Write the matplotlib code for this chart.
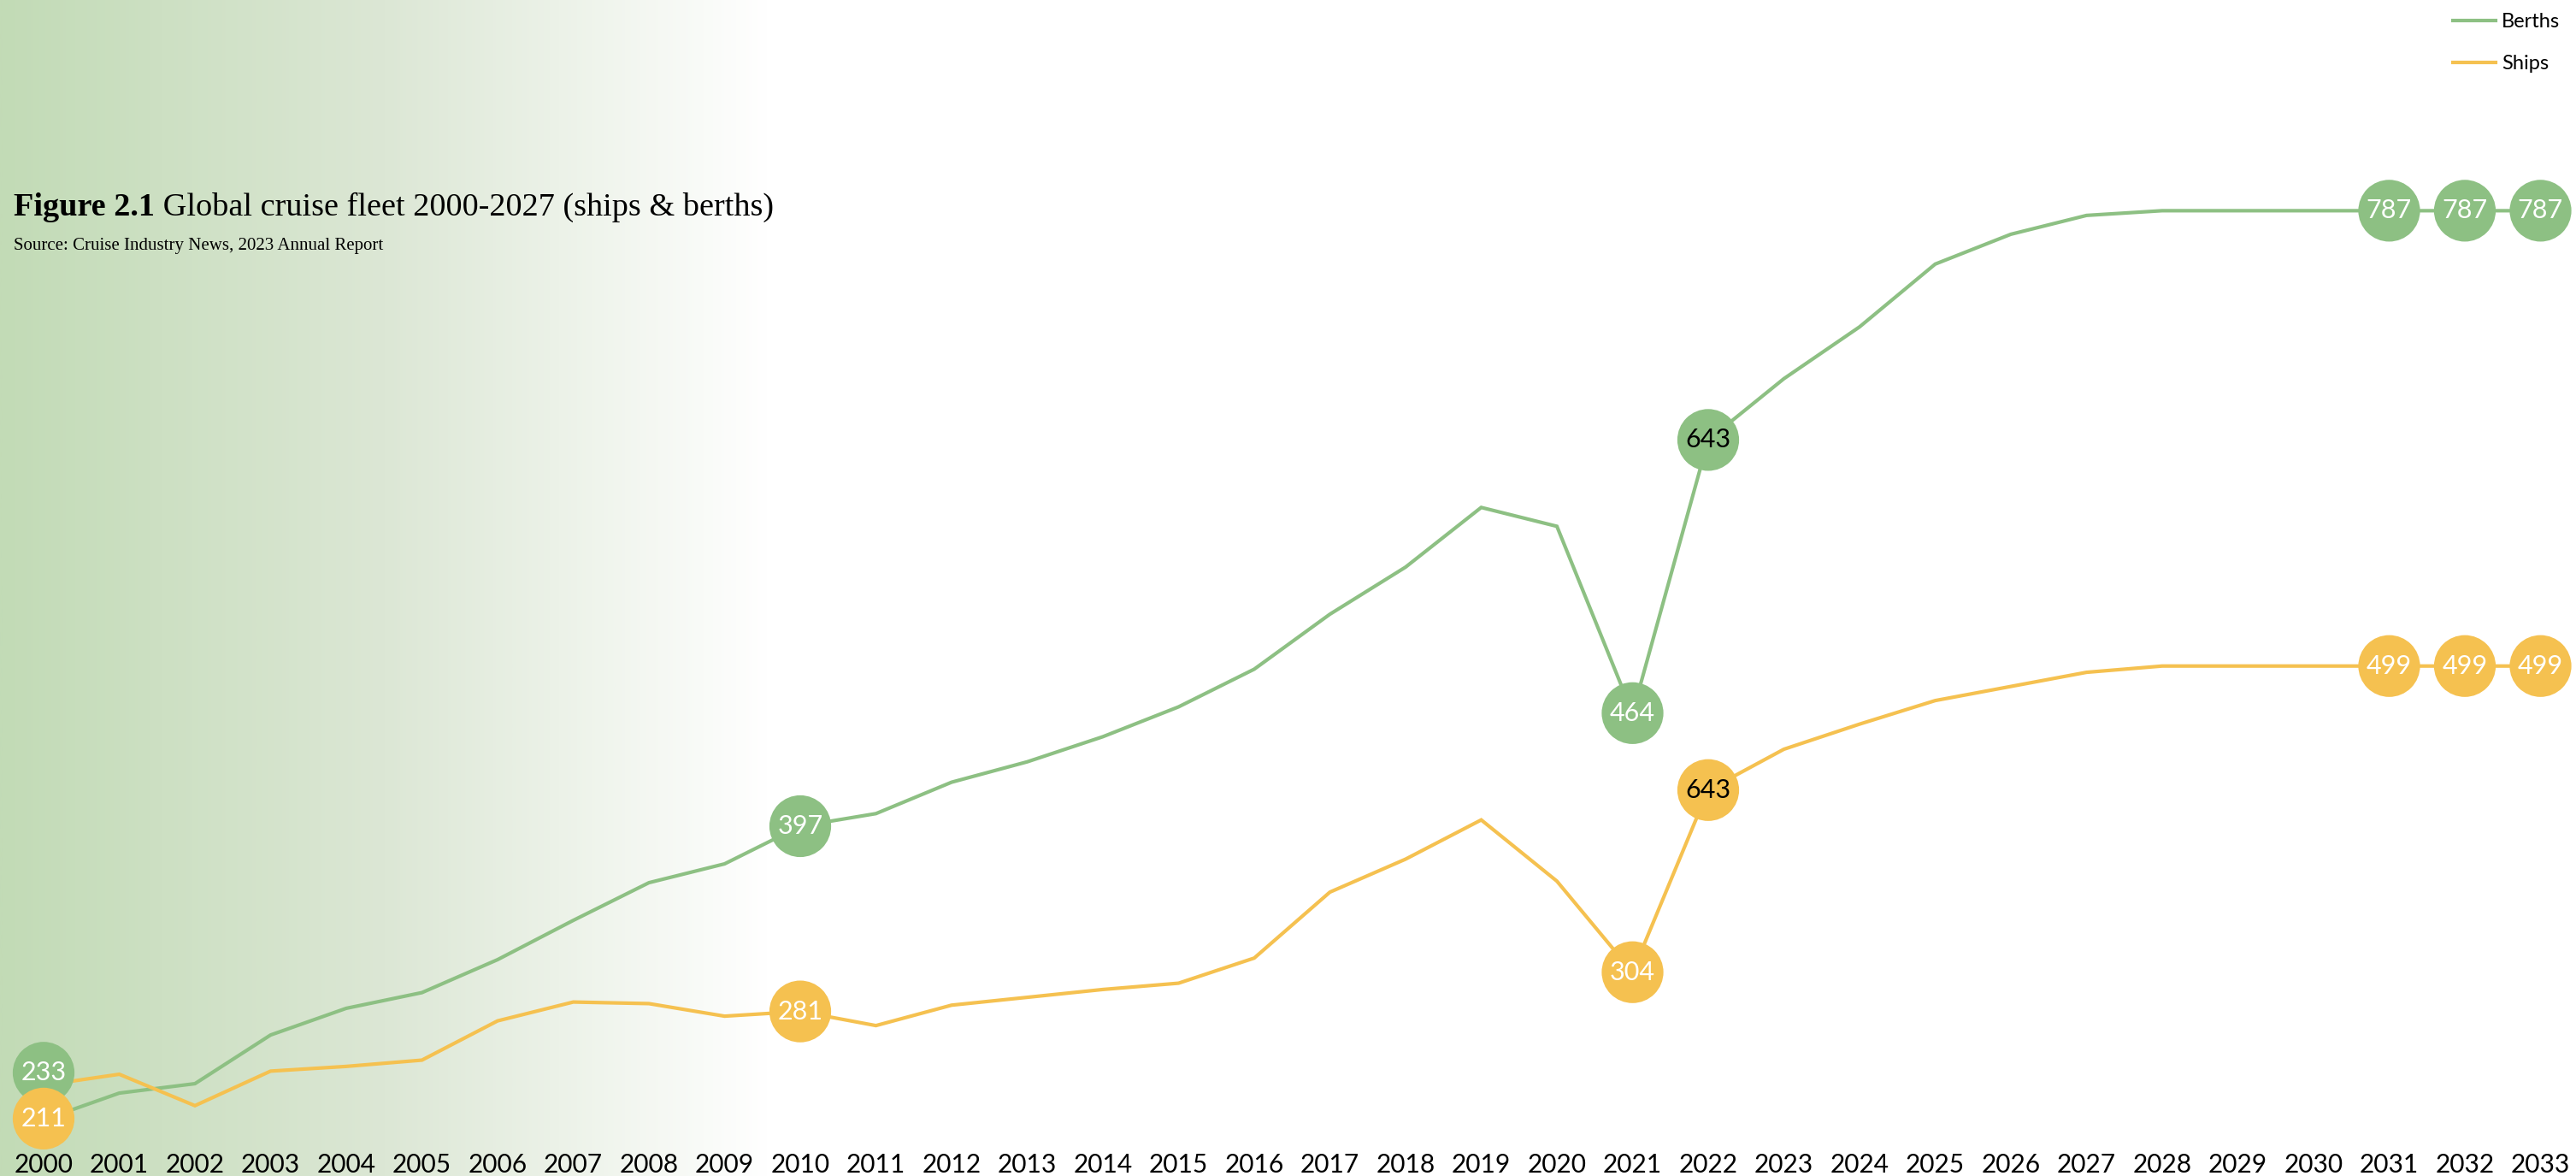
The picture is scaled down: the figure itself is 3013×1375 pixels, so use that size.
import numpy as np
import matplotlib
matplotlib.use("Agg")
import matplotlib.pyplot as plt
import matplotlib.transforms as mtransforms
from matplotlib.colors import LinearSegmentedColormap

# ---------------- data ----------------
years = list(range(2000, 2034))
berths = [210, 227, 233, 264, 281, 291, 312, 337, 361, 373, 397, 405, 425, 438, 454, 473,
          497, 532, 562, 600, 588, 469, 643, 682, 715, 755, 774, 786, 789, 789, 789, 789, 789, 789]
ships = [232, 239, 219, 241, 244, 248, 273, 285, 284, 276, 279, 270, 283, 288, 293, 297,
         313, 355, 376, 401, 362, 304, 420, 446, 462, 477, 486, 495, 499, 499, 499, 499, 499, 499]

berth_label_years = [2000, 2010, 2021, 2022, 2031, 2032, 2033]
berth_label_text = ["233", "397", "464", "643", "787", "787", "787"]
ship_label_years = [2000, 2010, 2021, 2022, 2031, 2032, 2033]
ship_label_text = ["211", "281", "304", "643", "499", "499", "499"]

series_names = ["Berths", "Ships"]
title_bold = "Figure 2.1"
title_rest = " Global cruise fleet 2000-2027 (ships & berths)"
subtitle = "Source: Cruise Industry News, 2023 Annual Report"

# ---------------- style ----------------
GREEN = "#8DC083"
ORANGE = "#F5C150"
SANS = ["Lato", "DejaVu Sans"]
SERIF = ["Liberation Serif", "DejaVu Serif"]
DPI = 100
W, H = 3013, 1375

fig = plt.figure(figsize=(W / DPI, H / DPI), dpi=DPI)

# background gradient
bg = fig.add_axes([0, 0, 1, 1], zorder=0)
bg.set_axis_off()
cmap = LinearSegmentedColormap.from_list("g", ["#C2DBB6", "#DCE7D5", "#FFFFFF"])
grad = np.linspace(0, 1, 512).reshape(1, -1)
bg.imshow(grad, cmap=cmap, aspect="auto", extent=[0, 900 / W, 0, 1])
bg.set_xlim(0, 1)
bg.set_ylim(0, 1)

ax = fig.add_axes([0, 0, 1, 1], zorder=1)
ax.set_facecolor("none")
ax.set_axis_off()
px_per_year = 88.5
x0 = 2000 - 51 / px_per_year
ax.set_xlim(x0, x0 + W / px_per_year)
ax.set_ylim(174.2, 923.2)

lb, = ax.plot(years, berths, color=GREEN, lw=3.0, solid_joinstyle="miter", zorder=2, label=series_names[0])
ls, = ax.plot(years, ships, color=ORANGE, lw=3.0, solid_joinstyle="miter", zorder=2, label=series_names[1])

# label offsets in pixels (only at 2000 the bubbles are shifted apart)
offsets_px = {("b", 2000): -55, ("s", 2000): 39}

def bubbles(key, lyears, ltext, series, color):
    for yr, txt in zip(lyears, ltext):
        v = series[years.index(yr)]
        dy = -offsets_px.get((key, yr), 0) * 72 / DPI
        tr = mtransforms.offset_copy(ax.transData, fig=fig, x=0, y=dy, units="points")
        ax.scatter([yr], [v], s=52 ** 2, color=color, edgecolors="none", zorder=3, transform=tr)
        tcol = "black" if txt == "643" else "white"
        ax.text(yr, v, txt, transform=tr, ha="center", va="center", fontsize=22,
                color=tcol, family=SANS, zorder=4)

bubbles("b", berth_label_years, berth_label_text, berths, GREEN)
bubbles("s", ship_label_years, ship_label_text, ships, ORANGE)

# year labels
xt = mtransforms.blended_transform_factory(ax.transData, ax.transAxes)
for yr in years:
    ax.text(yr, 13 / H, str(yr), transform=xt, ha="center", va="center",
            fontsize=21.5, family=SANS, color="black")

# title
renderer = fig.canvas.get_renderer()
t1 = fig.text(16 / W, 1 - 252 / H, title_bold, fontsize=27.5, fontweight="bold", family=SERIF,
              va="baseline", ha="left")
bb = t1.get_window_extent(renderer=renderer)
fig.text(bb.x1 / W, 1 - 252 / H, title_rest, fontsize=27.5, family=SERIF, va="baseline", ha="left")
fig.text(16 / W, 1 - 292 / H, subtitle, fontsize=15, family=SERIF, va="baseline", ha="left")

# legend
leg = fig.legend(handles=[lb, ls], loc="upper right", bbox_to_anchor=(2994 / W, 1 - 15 / H),
                 frameon=False, prop={"family": SANS, "size": 17}, handlelength=2.1,
                 handletextpad=0.3, labelspacing=1.2, borderpad=0, borderaxespad=0)

fig.savefig("out.png", dpi=DPI)
